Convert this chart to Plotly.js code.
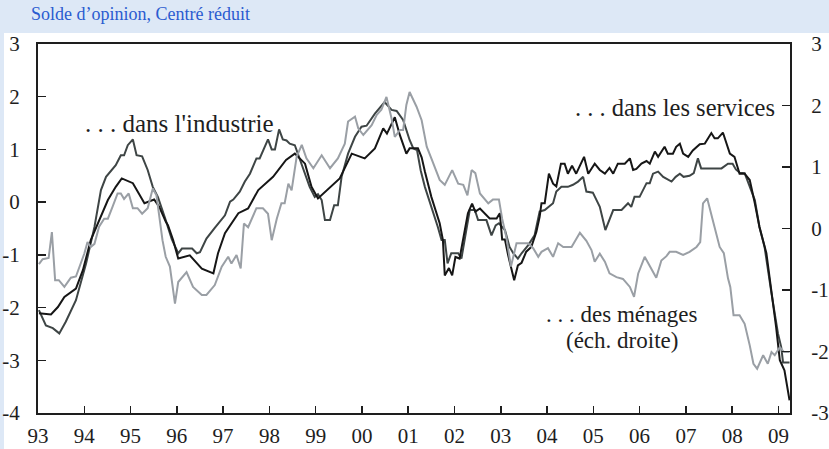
<!DOCTYPE html>
<html>
<head>
<meta charset="utf-8">
<script src="https://cdn.plot.ly/plotly-3.0.1.min.js"></script>
<style>
  html, body { margin: 0; padding: 0; background: #dde8f6; }
  #chart { width: 829px; height: 449px; }
</style>
</head>
<body>
<div id="chart"></div>
<script>
// Header and labels
const headerText = "Solde d’opinion, Centré réduit";
const labelIndustrie = ". . . dans l'industrie";
const labelServices = ". . . dans les services";
const labelMenages1 = ". . . des ménages";
const labelMenages2 = "(éch. droite)";

// X axis tick labels (years)
const yearTicks = [1993,1994,1995,1996,1997,1998,1999,2000,2001,2002,2003,2004,2005,2006,2007,2008,2009];
const yearLabels = ["93","94","95","96","97","98","99","00","01","02","03","04","05","06","07","08","09"];
const leftTicks = [-4,-3,-2,-1,0,1,2,3];
const leftLabels = ["-4","-3","-2","-1","0","1","2","3"];
const rightTicks = [-3,-2,-1,0,1,2,3];
const rightLabels = ["-3","-2","-1","0","1","2","3"];

// Industry (left axis)
const industrieX = [1993.02,1993.17,1993.32,1993.46,1993.60,1993.82,1994.04,1994.22,1994.36,1994.47,1994.68,1994.79,1994.86,1994.94,1995.05,1995.13,1995.25,1995.37,1995.48,1995.59,1995.76,1995.89,1996.03,1996.11,1996.33,1996.43,1996.50,1996.64,1996.82,1997.04,1997.15,1997.22,1997.36,1997.47,1997.58,1997.72,1997.79,1997.97,1998.05,1998.12,1998.21,1998.29,1998.37,1998.44,1998.55,1998.66,1998.77,1998.87,1998.98,1999.05,1999.13,1999.20,1999.31,1999.40,1999.48,1999.56,1999.70,1999.85,1999.99,2000.10,2000.28,2000.49,2000.64,2000.75,2000.89,2001.00,2001.03,2001.11,2001.19,2001.27,2001.36,2001.64,2001.72,2001.79,2001.85,2001.93,2002.08,2002.15,2002.33,2002.44,2002.51,2002.69,2002.80,2002.89,2002.96,2003.09,2003.19,2003.27,2003.37,2003.45,2003.59,2003.73,2003.84,2003.95,2004.13,2004.20,2004.31,2004.45,2004.56,2004.67,2004.78,2004.85,2004.99,2005.14,2005.26,2005.43,2005.61,2005.75,2005.82,2005.89,2006.00,2006.15,2006.22,2006.29,2006.40,2006.51,2006.69,2006.78,2006.87,2006.95,2007.08,2007.17,2007.26,2007.33,2007.51,2007.77,2007.91,2008.01,2008.08,2008.16,2008.27,2008.38,2008.49,2008.59,2008.70,2008.85,2008.99,2009.06,2009.10,2009.24];
const industrieY = [-2.05,-2.34,-2.39,-2.49,-2.27,-1.86,-1.16,-0.47,0.23,0.48,0.70,0.89,0.89,1.08,1.19,0.89,0.87,0.61,0.29,0.10,-0.34,-0.70,-0.97,-0.88,-0.88,-0.97,-0.95,-0.69,-0.49,-0.25,0.01,0.05,0.20,0.39,0.54,0.83,0.83,1.19,1.00,1.00,1.38,1.19,1.17,1.11,1.08,0.80,0.54,0.29,0.10,0.15,0.04,-0.34,-0.34,-0.06,-0.06,0.48,0.92,1.24,1.43,1.45,1.68,1.90,1.75,1.73,1.56,1.27,1.18,1.02,0.99,0.60,0.29,-0.47,-0.72,-0.72,-1.16,-0.97,-0.97,-1.07,-0.15,-0.15,-0.34,-0.34,-0.63,-0.44,-0.40,-0.53,-0.85,-0.97,-1.07,-0.97,-0.82,-0.63,-0.18,-0.15,-0.02,0.20,0.29,0.29,0.33,0.39,0.48,0.20,0.18,-0.09,-0.53,-0.15,-0.15,-0.02,-0.09,0.10,0.10,0.36,0.36,0.54,0.58,0.48,0.39,0.48,0.54,0.48,0.50,0.55,0.83,0.64,0.64,0.64,0.73,0.73,0.62,0.56,0.55,0.29,0.04,-0.47,-0.85,-1.73,-2.49,-2.75,-3.04,-3.04];

// Services (left axis)
const servicesX = [1993.02,1993.28,1993.43,1993.57,1993.82,1993.97,1994.14,1994.32,1994.51,1994.68,1994.81,1995.05,1995.30,1995.51,1995.62,1995.76,1995.81,1995.92,1996.03,1996.28,1996.54,1996.79,1996.89,1997.04,1997.33,1997.54,1997.76,1998.08,1998.36,1998.55,1998.77,1998.91,1999.05,1999.52,1999.78,2000.06,2000.28,2000.46,2000.54,2000.71,2000.82,2000.96,2001.03,2001.21,2001.29,2001.36,2001.50,2001.68,2001.75,2001.79,2001.88,2001.95,2002.02,2002.11,2002.29,2002.38,2002.45,2002.55,2002.76,2002.91,2002.98,2003.03,2003.09,2003.16,2003.29,2003.37,2003.45,2003.55,2003.66,2003.77,2003.84,2003.88,2003.95,2004.04,2004.13,2004.20,2004.30,2004.38,2004.45,2004.54,2004.63,2004.80,2004.89,2005.03,2005.14,2005.25,2005.35,2005.43,2005.53,2005.68,2005.79,2005.86,2005.93,2006.04,2006.15,2006.22,2006.33,2006.40,2006.54,2006.61,2006.72,2006.79,2006.87,2006.94,2007.05,2007.15,2007.30,2007.41,2007.55,2007.62,2007.69,2007.80,2007.95,2008.05,2008.16,2008.27,2008.38,2008.49,2008.59,2008.74,2008.85,2008.95,2009.03,2009.13,2009.24];
const servicesY = [-2.11,-2.13,-1.99,-1.80,-1.64,-1.29,-0.72,-0.34,0.04,0.29,0.45,0.36,-0.02,0.05,-0.09,-0.37,-0.44,-0.72,-1.07,-1.01,-1.26,-1.35,-0.97,-0.59,-0.21,-0.12,0.23,0.48,0.80,0.92,0.73,0.29,0.07,0.45,0.92,0.83,1.02,1.40,1.30,1.61,1.27,0.92,1.02,1.02,0.85,0.58,0.10,-0.40,-0.72,-1.39,-1.25,-1.39,-1.04,-1.07,-0.21,-0.03,-0.18,-0.12,-0.31,-0.31,-0.21,-0.71,-0.71,-1.01,-1.48,-1.20,-1.15,-0.94,-0.85,-0.56,-0.28,-0.02,-0.02,0.54,0.35,0.30,0.73,0.73,0.54,0.69,0.54,0.86,0.54,0.73,0.61,0.54,0.65,0.54,0.73,0.73,0.83,0.61,0.63,0.73,0.78,0.73,0.96,0.86,1.05,0.92,0.92,1.05,1.11,0.92,0.86,0.98,1.10,1.11,1.31,1.21,1.21,1.32,0.92,0.86,0.54,0.54,0.42,-0.02,-0.47,-0.97,-1.67,-2.37,-3.00,-3.19,-3.76];

// Households (right axis)
const menagesX = [1993.02,1993.10,1993.23,1993.30,1993.37,1993.45,1993.57,1993.71,1993.82,1994.00,1994.07,1994.14,1994.22,1994.32,1994.43,1994.51,1994.61,1994.72,1994.79,1994.86,1994.96,1995.05,1995.15,1995.25,1995.37,1995.48,1995.56,1995.69,1995.76,1995.85,1995.96,1996.03,1996.21,1996.35,1996.54,1996.64,1996.82,1996.97,1997.11,1997.18,1997.29,1997.38,1997.45,1997.54,1997.72,1997.86,1997.97,1998.05,1998.16,1998.26,1998.33,1998.41,1998.48,1998.59,1998.70,1998.80,1998.95,1999.13,1999.31,1999.48,1999.63,1999.70,1999.85,1999.92,2000.03,2000.21,2000.32,2000.42,2000.53,2000.64,2000.71,2000.82,2000.89,2000.96,2001.03,2001.18,2001.29,2001.40,2001.50,2001.68,2001.79,2001.95,2002.08,2002.19,2002.28,2002.37,2002.45,2002.55,2002.73,2002.83,2002.96,2003.03,2003.12,2003.22,2003.34,2003.59,2003.70,2003.81,2003.88,2004.02,2004.13,2004.24,2004.35,2004.53,2004.71,2004.85,2004.96,2005.03,2005.14,2005.25,2005.35,2005.50,2005.64,2005.79,2005.88,2005.97,2006.11,2006.22,2006.36,2006.47,2006.58,2006.65,2006.79,2006.94,2007.08,2007.23,2007.31,2007.37,2007.46,2007.59,2007.73,2007.82,2007.91,2007.96,2008.03,2008.16,2008.27,2008.38,2008.46,2008.54,2008.67,2008.77,2008.85,2008.92,2009.03,2009.12,2009.24];
const menagesY = [-0.58,-0.50,-0.48,-0.06,-0.84,-0.84,-0.95,-0.80,-0.78,-0.41,-0.22,-0.30,-0.25,0.03,0.16,0.16,0.35,0.57,0.57,0.48,0.57,0.33,0.33,0.24,0.33,0.65,0.54,-0.19,-0.46,-0.62,-1.22,-0.87,-0.71,-0.95,-1.08,-1.08,-0.92,-0.62,-0.46,-0.57,-0.43,-0.65,0.08,0.02,0.33,0.33,0.24,-0.19,0.16,0.41,0.41,0.73,0.62,1.17,1.36,1.14,0.98,1.19,0.98,1.14,1.38,1.74,1.82,1.63,1.52,1.68,1.85,1.93,2.14,1.79,1.49,1.60,1.60,2.01,2.22,1.98,1.76,1.33,1.14,0.79,0.71,0.95,0.73,0.71,0.54,0.95,0.90,0.57,0.41,0.47,0.47,0.16,-0.14,-0.62,-0.24,-0.24,-0.32,-0.46,-0.38,-0.32,-0.46,-0.24,-0.30,-0.30,-0.07,-0.20,-0.35,-0.54,-0.41,-0.54,-0.73,-0.79,-0.82,-0.95,-1.11,-0.73,-0.46,-0.62,-0.80,-0.52,-0.45,-0.38,-0.38,-0.43,-0.38,-0.30,-0.22,0.41,0.49,0.11,-0.30,-0.40,-0.81,-0.95,-1.41,-1.41,-1.55,-1.90,-2.20,-2.28,-2.06,-2.20,-2.01,-2.06,-1.93,-2.01,-2.01];

const FONT = "'Liberation Serif', 'Times New Roman', serif";
const INK = "#1e1e1e";

const traces = [
  { x: menagesX, y: menagesY, yaxis: "y2", type: "scatter", mode: "lines",
    line: { color: "#9a9fa5", width: 2 }, hoverinfo: "skip", showlegend: false },
  { x: industrieX, y: industrieY, type: "scatter", mode: "lines",
    line: { color: "#3e4545", width: 2 }, hoverinfo: "skip", showlegend: false },
  { x: servicesX, y: servicesY, type: "scatter", mode: "lines",
    line: { color: "#161616", width: 2 }, hoverinfo: "skip", showlegend: false }
];

const layout = {
  width: 829, height: 449,
  margin: { l: 38, r: 39, t: 44, b: 36, pad: 0 },
  paper_bgcolor: "#dde8f6",
  plot_bgcolor: "#ffffff",
  font: { family: FONT, color: INK, size: 21 },
  xaxis: {
    range: [1993, 2009.25], tickmode: "array", tickvals: yearTicks, ticktext: yearLabels,
    ticks: "inside", ticklen: 7, tickwidth: 1.5, tickcolor: INK,
    showline: true, linewidth: 2, linecolor: INK, mirror: true,
    showgrid: false, zeroline: false, ticklabelstandoff: 3,
    tickfont: { family: FONT, size: 21, color: INK }
  },
  yaxis: {
    range: [-4, 3], tickmode: "array", tickvals: leftTicks, ticktext: leftLabels,
    ticks: "inside", ticklen: 8, tickwidth: 1.5, tickcolor: INK,
    showline: true, linewidth: 2, linecolor: INK,
    showgrid: false, zeroline: false, ticklabelstandoff: 12,
    tickfont: { family: FONT, size: 21, color: INK }
  },
  yaxis2: {
    range: [-3, 3], overlaying: "y", side: "right", tickmode: "array",
    tickvals: rightTicks, ticktext: rightLabels,
    ticks: "inside", ticklen: 8, tickwidth: 1.5, tickcolor: INK,
    showline: true, linewidth: 2, linecolor: INK,
    showgrid: false, zeroline: false, ticklabelstandoff: 15,
    tickfont: { family: FONT, size: 21, color: INK }
  },
  shapes: [
    { type: "rect", xref: "paper", yref: "paper", layer: "below",
      x0: -0.0452, x1: 1.2, y0: -0.3, y1: 1.0298,
      fillcolor: "#ffffff", line: { width: 0 } }
  ],
  annotations: [
    { text: headerText, xref: "paper", yref: "paper", x: -0.012, y: 1.0813,
      xanchor: "left", yanchor: "middle", showarrow: false,
      font: { family: FONT, size: 18, color: "#2a5bd0" } },
    { text: labelIndustrie, x: 1993.97, y: 1.50, xref: "x", yref: "y",
      xanchor: "left", yanchor: "middle", showarrow: false,
      font: { family: FONT, size: 25, color: INK } },
    { text: labelServices, x: 2008.96, y: 1.80, xref: "x", yref: "y",
      xanchor: "right", yanchor: "middle", showarrow: false,
      font: { family: FONT, size: 24.5, color: INK } },
    { text: labelMenages1, x: 2005.61, y: -2.14, xref: "x", yref: "y",
      xanchor: "center", yanchor: "middle", showarrow: false,
      font: { family: FONT, size: 23, color: INK } },
    { text: labelMenages2, x: 2005.61, y: -2.62, xref: "x", yref: "y",
      xanchor: "center", yanchor: "middle", showarrow: false,
      font: { family: FONT, size: 23, color: INK } }
  ]
};

Plotly.newPlot("chart", traces, layout, { staticPlot: true, displayModeBar: false });
</script>
</body>
</html>
